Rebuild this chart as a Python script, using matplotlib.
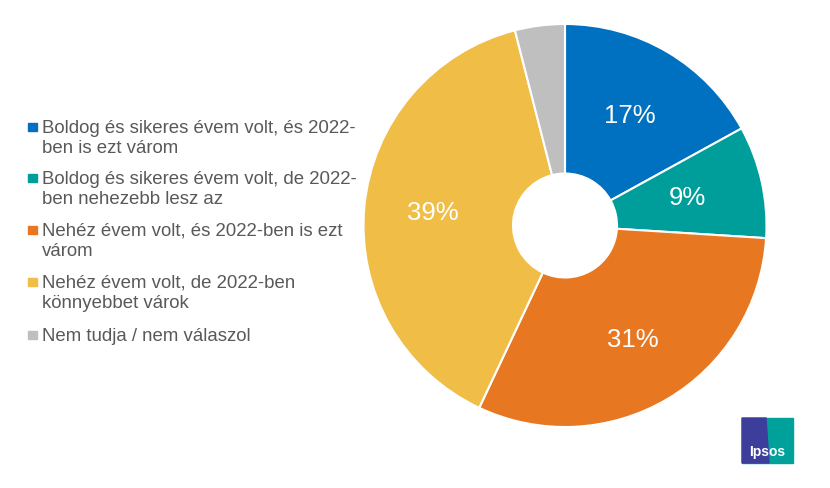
import numpy as np
import matplotlib.pyplot as plt
from matplotlib.patches import Rectangle, Polygon

plt.rcParams["font.family"] = ["Liberation Sans", "DejaVu Sans"]

labels = [
    "Boldog és sikeres évem volt, és 2022-\nben is ezt várom",
    "Boldog és sikeres évem volt, de 2022-\nben nehezebb lesz az",
    "Nehéz évem volt, és 2022-ben is ezt\nvárom",
    "Nehéz évem volt, de 2022-ben\nkönnyebbet várok",
    "Nem tudja / nem válaszol",
]
values = [17, 9, 31, 39, 4]
pct_labels = ["17%", "9%", "31%", "39%", ""]
colors = ["#0070C0", "#009E9A", "#E87722", "#F0BE47", "#BFBFBF"]

W, H = 830, 488
fig = plt.figure(figsize=(W / 100, H / 100), dpi=100)

# donut axes: center (565, 225.5) px, radius 201.5 px
cx, cy, r = 565, 225.5, 201.5
ax = fig.add_axes([(cx - r) / W, (H - cy - r) / H, 2 * r / W, 2 * r / H])
wedges, _ = ax.pie(values, colors=colors, startangle=90, counterclock=False,
                   radius=1.0,
                   wedgeprops=dict(width=1 - 52 / r, edgecolor="white", linewidth=1.5))
ax.set_xlim(-1, 1)
ax.set_ylim(-1, 1)
ax.set_aspect("equal")

# percentage labels (label distance from centre, per wedge)
dists = [0.63, 0.62, 0.66, 0.66, 0.66]
total = sum(values)
cum = 0
for v, t, d in zip(values, pct_labels, dists):
    mid = 90 - (cum + v / 2) / total * 360
    cum += v
    if t:
        a = np.deg2rad(mid)
        ax.text(d * np.cos(a), d * np.sin(a), t, color="white",
                fontsize=18.5, ha="center", va="center")

# legend (first-line baselines in px from top)
baselines = [133, 184, 236, 288, 341]
for lab, c, yb in zip(labels, colors, baselines):
    fig.patches.append(Rectangle((28 / W, (H - yb + 2) / H), 8.5 / W, 8.5 / H,
                                 transform=fig.transFigure, color=c))
    for k, line in enumerate(lab.split("\n")):
        fig.text(42 / W, (H - yb - 20 * k) / H, line, fontsize=13.4,
                 color="#595959", ha="left", va="baseline")

# Ipsos logo
lx0, ly0, lw, lh = 742, 418, 51, 45
fig.patches.append(Rectangle((lx0 / W, (H - ly0 - lh) / H), lw / W, lh / H,
                             transform=fig.transFigure, color="#00A19A"))
fig.patches.append(Polygon([(lx0 / W, (H - ly0 - lh) / H), ((lx0 + 27) / W, (H - ly0 - lh) / H),
                            ((lx0 + 24) / W, (H - ly0) / H), (lx0 / W, (H - ly0) / H)],
                           transform=fig.transFigure, color="#3D3D9B"))
fig.text((lx0 + 25) / W, (H - ly0 - 34) / H, "Ipsos", color="white",
         fontsize=10, fontweight="bold", ha="center", va="center")

fig.savefig("out.png", dpi=100)
